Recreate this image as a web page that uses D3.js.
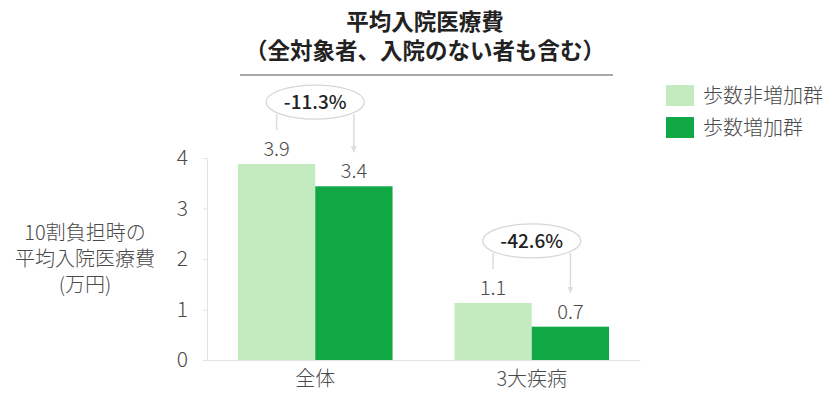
<!DOCTYPE html>
<html>
<head>
<meta charset="utf-8">
<script src="https://cdn.jsdelivr.net/npm/d3@7"></script>
<style>
  body { margin: 0; background: #fff; }
  svg { font-family: "Noto Sans CJK JP", "Noto Sans", sans-serif; }
</style>
</head>
<body>
<div id="chart"></div>
<script>
'use strict';

// data
const categories = ['全体', '3大疾病'];
const seriesNames = ['歩数非増加群', '歩数増加群'];
const nonIncrease = [3.88, 1.13];
const increase = [3.44, 0.66];
const valueLabels = [['3.9', '3.4'], ['1.1', '0.7']];
const changeLabels = ['-11.3%', '-42.6%'];
const yTicks = [0, 1, 2, 3, 4];
const titleLines = ['平均入院医療費', '（全対象者、入院のない者も含む）'];
const yLabelLines = ['10割負担時の', '平均入院医療費', '(万円)'];

const colors = ['#c4eac0', '#0fa844'];
const width = 840, height = 405;
const margin = { top: 158, right: 200, bottom: 45, left: 207 };
const textColor = '#4a4a4a';

const svg = d3.select('#chart')
    .append('svg')
    .attr('width', width)
    .attr('height', height);

const chartWidth = width - margin.left - margin.right;
const chartHeight = height - margin.top - margin.bottom;

const chart = svg.append('g')
    .attr('transform', `translate(${margin.left},${margin.top})`);

const x0 = d3.scaleBand()
    .domain(categories)
    .range([0, chartWidth])
    .paddingInner(0.286)
    .paddingOuter(0.143);

const x1 = d3.scaleBand()
    .domain(seriesNames)
    .range([0, x0.bandwidth()])
    .padding(0);

const y = d3.scaleLinear()
    .domain([0, 4])
    .range([chartHeight, 0]);

const rows = categories.map((c, i) => ({
    category: c,
    values: [nonIncrease[i], increase[i]],
    labels: valueLabels[i],
    change: changeLabels[i]
}));

// title
svg.selectAll('text.title')
    .data(titleLines)
    .join('text')
    .attr('class', 'title')
    .attr('x', 425)
    .attr('y', (d, i) => 30 + i * 29)
    .attr('text-anchor', 'middle')
    .style('font-size', '22.5px')
    .style('font-weight', 'bold')
    .style('fill', '#222')
    .text(d => d);

svg.append('line')
    .attr('x1', 240).attr('x2', 613)
    .attr('y1', 75).attr('y2', 75)
    .style('stroke', '#a8a8a8')
    .style('stroke-width', 2);

// axes
const yAxis = chart.append('g')
    .call(d3.axisLeft(y).tickValues(yTicks).tickFormat(d3.format('d')).tickSize(4).tickPadding(15));
yAxis.select('.domain').style('stroke', '#e2e2e2');
yAxis.selectAll('.tick line').style('stroke', '#e2e2e2');
yAxis.selectAll('.tick text')
    .style('font-size', '21px')
    .style('font-weight', 300)
    .style('fill', textColor)
    .style('font-family', '"Noto Sans CJK JP", sans-serif');

const xAxis = chart.append('g')
    .attr('transform', `translate(0,${chartHeight})`)
    .call(d3.axisBottom(x0).tickSize(0).tickPadding(12));
xAxis.select('.domain').style('stroke', '#e2e2e2');
xAxis.selectAll('.tick text')
    .style('font-size', '20px')
    .style('font-weight', 300)
    .style('fill', textColor)
    .style('font-family', '"Noto Sans CJK JP", sans-serif');

// bars
const groups = chart.selectAll('g.group')
    .data(rows)
    .join('g')
    .attr('class', 'group')
    .attr('transform', d => `translate(${x0(d.category)},0)`);

groups.selectAll('rect')
    .data(d => d.values.map((v, i) => ({ name: seriesNames[i], value: v, label: d.labels[i] })))
    .join('rect')
    .attr('x', d => x1(d.name))
    .attr('y', d => y(d.value))
    .attr('width', x1.bandwidth())
    .attr('height', d => chartHeight - y(d.value))
    .style('fill', (d, i) => colors[i]);

groups.selectAll('text.value')
    .data(d => d.values.map((v, i) => ({ name: seriesNames[i], value: v, label: d.labels[i] })))
    .join('text')
    .attr('class', 'value')
    .attr('x', d => x1(d.name) + x1.bandwidth() / 2)
    .attr('y', d => y(d.value) - 8)
    .attr('text-anchor', 'middle')
    .style('font-size', '20px')
    .style('font-weight', 300)
    .style('fill', textColor)
    .text(d => d.label);

// change annotations
const arrowColor = '#dcdcdc';
svg.append('defs').append('marker')
    .attr('id', 'arrow')
    .attr('viewBox', '0 0 10 10')
    .attr('refX', 10).attr('refY', 5)
    .attr('markerWidth', 4).attr('markerHeight', 4)
    .attr('orient', 'auto')
    .append('path')
    .attr('d', 'M0,0 L10,5 L0,10 Z')
    .style('fill', arrowColor);

groups.each(function (d) {
    const g = d3.select(this);
    const xl = x1(seriesNames[0]) + x1.bandwidth() / 2;
    const xr = x1(seriesNames[1]) + x1.bandwidth() / 2;
    const topL = y(d.values[0]);
    const topR = y(d.values[1]);
    const cy = topL - 62;
    const cx = x0.bandwidth() / 2;

    g.append('line')
        .attr('x1', xl).attr('x2', xl)
        .attr('y1', cy + 12).attr('y2', topL - 34)
        .style('stroke', arrowColor).style('stroke-width', 1.5);

    g.append('line')
        .attr('x1', xr).attr('x2', xr)
        .attr('y1', cy + 12).attr('y2', topR - 34)
        .style('stroke', arrowColor).style('stroke-width', 1.5)
        .attr('marker-end', 'url(#arrow)');

    g.append('ellipse')
        .attr('cx', cx).attr('cy', cy)
        .attr('rx', 49).attr('ry', 17)
        .style('fill', '#fff')
        .style('stroke', '#d6d6d6')
        .style('stroke-width', 1.2);

    g.append('text')
        .attr('x', cx).attr('y', cy + 7)
        .attr('text-anchor', 'middle')
        .style('font-size', '19px')
        .style('font-weight', 500)
        .style('fill', '#222')
        .text(d.change);
});

// y label
svg.selectAll('text.ylabel')
    .data(yLabelLines)
    .join('text')
    .attr('class', 'ylabel')
    .attr('x', 85)
    .attr('y', (d, i) => 240 + i * 26)
    .attr('text-anchor', 'middle')
    .style('font-size', '20px')
    .style('font-weight', 300)
    .style('fill', textColor)
    .text(d => d);

// legend
const legend = svg.append('g')
    .attr('transform', 'translate(666,85)');

const items = legend.selectAll('g')
    .data(seriesNames)
    .join('g')
    .attr('transform', (d, i) => `translate(0,${i * 32})`);

items.append('rect')
    .attr('width', 28).attr('height', 21)
    .style('fill', (d, i) => colors[i]);

items.append('text')
    .attr('x', 37).attr('y', 18)
    .style('font-size', '20px')
    .style('font-weight', 300)
    .style('fill', textColor)
    .text(d => d);
</script>
</body>
</html>
